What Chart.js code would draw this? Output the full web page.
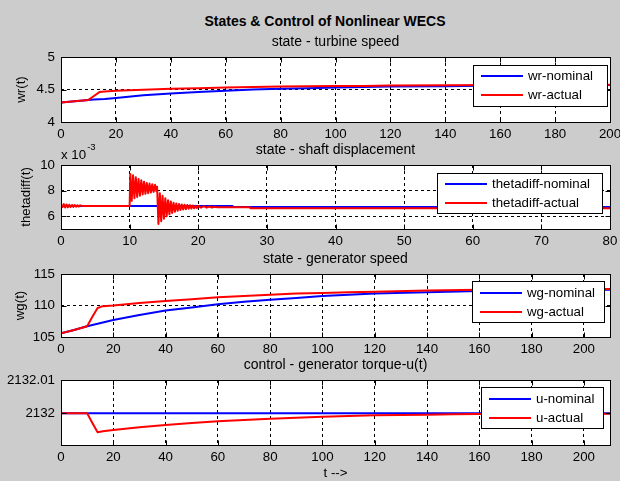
<!DOCTYPE html>
<html>
<head>
<meta charset="utf-8">
<title>States & Control of Nonlinear WECS</title>
<script src="https://cdn.jsdelivr.net/npm/chart.js@4.4.0/dist/chart.umd.min.js"></script>
<style>
  html, body { margin: 0; padding: 0; background: #cccccc; }
  #fig { position: relative; width: 620px; height: 481px; background: #cccccc; overflow: hidden; }
  #fig canvas { position: absolute; left: 0; }
  #mainTitle {
    position: absolute; top: 13px; left: 0; width: 650px; line-height: 16px;
    text-align: center; font: bold 14px "Liberation Sans", Arial, sans-serif; color: #000;
  }
</style>
</head>
<body>
<div id="fig">
  <div id="mainTitle">States &amp; Control of Nonlinear WECS</div>
  <canvas id="c1" width="620" height="115" style="top:27px"></canvas>
  <canvas id="c2" width="620" height="114" style="top:135px"></canvas>
  <canvas id="c3" width="620" height="113" style="top:244px"></canvas>
  <canvas id="c4" width="620" height="131" style="top:350px"></canvas>
</div>
<script>
// ---- turbine speed ----
const tWr = [0, 5, 10, 12, 14, 16, 20, 30, 40, 50, 60, 70, 80, 90, 100, 110, 120, 140, 160, 180, 200];
const wrNominal = [4.30, 4.32, 4.34, 4.345, 4.35, 4.355, 4.37, 4.41, 4.44, 4.46, 4.48, 4.50, 4.51, 4.52, 4.53, 4.54, 4.545, 4.55, 4.56, 4.565, 4.57];
const wrActual = [4.30, 4.32, 4.34, 4.40, 4.46, 4.47, 4.48, 4.495, 4.51, 4.52, 4.53, 4.54, 4.545, 4.55, 4.555, 4.555, 4.56, 4.565, 4.57, 4.57, 4.575];
const xTicksWr = [0, 20, 40, 60, 80, 100, 120, 140, 160, 180, 200];
const yTicksWr = [4, 4.5, 5];

// ---- shaft displacement (x 10^-3) ----
const tThetaNominal = [0, 25, 25.1, 80];
const thetaNominal = [6.80, 6.80, 6.72, 6.72];
const tThetaActual = [
  0, 0.2, 0.4, 0.6, 0.8, 1.0, 1.2, 1.4, 1.6, 1.8, 2.0, 2.2, 2.4, 2.6, 2.8, 3.0,
  10.0, 10.1, 10.3, 10.5, 10.7, 10.9, 11.1, 11.3, 11.5, 11.7, 11.9, 12.1, 12.3, 12.5, 12.7, 12.9, 13.1, 13.3, 13.5, 13.7, 13.9, 14.0,
  14.2, 14.4, 14.6, 14.8, 15.0, 15.2, 15.4, 15.6, 15.8, 16.0, 16.2, 16.4, 16.6, 16.8, 17.0, 17.2, 17.4, 17.6, 17.8, 18.0,
  18.2, 18.4, 18.6, 18.8, 19.0, 19.2, 19.4, 19.6, 19.8, 20.0,
  20.4, 20.8, 21.2, 21.6, 22.0, 22.4, 22.8, 23.0, 27.5, 27.6, 80
];
const thetaActual = [
  6.90, 6.70, 6.95, 6.68, 6.92, 6.70, 6.90, 6.72, 6.88, 6.73, 6.87, 6.74, 6.86, 6.75, 6.85, 6.80,
  6.80, 9.30, 7.20, 9.20, 7.40, 9.05, 7.50, 8.90, 7.60, 8.80, 7.70, 8.70, 7.75, 8.60, 7.80, 8.55, 7.85, 8.50, 7.90, 8.45, 7.95, 8.30,
  5.40, 7.80, 5.60, 7.60, 5.80, 7.40, 6.00, 7.25, 6.15, 7.15, 6.25, 7.05, 6.35, 7.00, 6.42, 6.95, 6.48, 6.92, 6.52, 6.90,
  6.55, 6.88, 6.58, 6.86, 6.60, 6.84, 6.62, 6.82, 6.64, 6.80,
  6.66, 6.78, 6.67, 6.76, 6.68, 6.74, 6.69, 6.70, 6.70, 6.62, 6.62
];
const xTicksTheta = [0, 10, 20, 30, 40, 50, 60, 70, 80];
const yTicksTheta = [6, 8, 10];

// ---- generator speed ----
const tWg = [0, 5, 10, 12, 14, 16, 20, 30, 40, 50, 60, 70, 80, 90, 100, 110, 120, 140, 160, 180, 210];
const wgNominal = [105.6, 106.1, 106.7, 106.9, 107.1, 107.3, 107.7, 108.5, 109.2, 109.7, 110.2, 110.6, 110.9, 111.2, 111.5, 111.7, 111.9, 112.1, 112.3, 112.4, 112.5];
const wgActual = [105.6, 106.1, 106.7, 108.2, 109.6, 109.9, 110.0, 110.4, 110.7, 111.0, 111.3, 111.5, 111.7, 111.9, 112.0, 112.1, 112.2, 112.4, 112.5, 112.55, 112.6];
const xTicksLong = [0, 20, 40, 60, 80, 100, 120, 140, 160, 180, 200];
const yTicksWg = [105, 110, 115];

// ---- generator torque ----
const tUNominal = [0, 210];
const uNominal = [2132, 2132];
const tU = [0, 10, 12, 14, 16, 20, 30, 40, 50, 60, 70, 80, 90, 100, 110, 120, 130, 140, 150, 160, 180, 210];
const uActual = [2132, 2132, 2131.9971, 2131.9943, 2131.9946, 2131.9950, 2131.9958, 2131.9965, 2131.9971, 2131.9976, 2131.9980,
  2131.9984, 2131.9987, 2131.9990, 2131.9992, 2131.9994, 2131.9995, 2131.9996, 2131.9997, 2131.9998, 2131.9999, 2131.9999];
const yTicksU = [2132, 2132.01];

Chart.defaults.font.family = '"Liberation Sans", Arial, sans-serif';
Chart.defaults.color = '#000';

const FONT = '"Liberation Sans", Arial, sans-serif';

function pts(xs, ys) {
  return xs.map((x, i) => ({ x: x, y: ys[i] }));
}

// white axes, black box, inner tick marks, boxed legend
const matlabAxes = {
  id: 'matlabAxes',
  beforeDraw(chart) {
    const { ctx, chartArea: a } = chart;
    ctx.save();
    ctx.fillStyle = '#ffffff';
    ctx.fillRect(a.left, a.top, a.right - a.left, a.bottom - a.top);
    ctx.restore();
  },
  afterDraw(chart, args, opts) {
    const { ctx, chartArea: a, scales } = chart;
    const L = Math.round(a.left) + 0.5, R = Math.round(a.right) + 0.5;
    const T = Math.round(a.top) + 0.5, B = Math.round(a.bottom) + 0.5;
    ctx.save();
    ctx.strokeStyle = '#000';
    ctx.lineWidth = 1;
    ctx.strokeRect(L, T, R - L, B - T);

    ctx.beginPath();
    scales.x.ticks.forEach(t => {
      const x = Math.round(scales.x.getPixelForValue(t.value)) + 0.5;
      ctx.moveTo(x, B); ctx.lineTo(x, B - 5);
      ctx.moveTo(x, T); ctx.lineTo(x, T + 5);
    });
    scales.y.ticks.forEach(t => {
      const y = Math.round(scales.y.getPixelForValue(t.value)) + 0.5;
      ctx.moveTo(L, y); ctx.lineTo(L + 5, y);
      ctx.moveTo(R, y); ctx.lineTo(R - 5, y);
    });
    ctx.stroke();

    if (opts.exponent) {
      ctx.fillStyle = '#000';
      ctx.textBaseline = 'middle';
      ctx.textAlign = 'left';
      ctx.font = '13.3px ' + FONT;
      ctx.fillText('x 10', a.left, a.top - 10);
      const w = ctx.measureText('x 10').width;
      ctx.font = '9.5px ' + FONT;
      ctx.fillText(opts.exponent, a.left + w + 1, a.top - 18);
    }

    const lg = opts.legend;
    if (lg) {
      const x0 = lg.x, y0 = Math.round(a.top) + lg.dy;
      ctx.fillStyle = '#ffffff';
      ctx.fillRect(x0, y0, lg.w, lg.h);
      ctx.strokeStyle = '#000';
      ctx.lineWidth = 1;
      ctx.strokeRect(x0 + 0.5, y0 + 0.5, lg.w - 1, lg.h - 1);
      ctx.font = '13.3px ' + FONT;
      ctx.textBaseline = 'middle';
      ctx.textAlign = 'left';
      chart.data.datasets.forEach((ds, i) => {
        const y = y0 + lg.row0 + i * 19;
        ctx.strokeStyle = ds.borderColor;
        ctx.lineWidth = 2;
        ctx.beginPath();
        ctx.moveTo(x0 + 8, y);
        ctx.lineTo(x0 + 50, y);
        ctx.stroke();
        ctx.fillStyle = '#000';
        ctx.fillText(ds.label, x0 + 55, y);
      });
    }
    ctx.restore();
  }
};

function xScale(max, ticks, height, title) {
  return {
    type: 'linear',
    min: 0,
    max: max,
    afterBuildTicks: s => { s.ticks = ticks.map(v => ({ value: v })); },
    afterFit: s => { s.height = height; s.paddingLeft = 0; s.paddingRight = 0; },
    grid: { color: '#000', lineWidth: 1, drawTicks: false },
    border: { display: false, dash: [3, 3] },
    ticks: { padding: 4, maxRotation: 0, autoSkip: false, font: { size: 13.3 }, callback: v => String(v) },
    title: {
      display: !!title, text: title || '', font: { size: 13.3 },
      padding: { top: 0, bottom: 0 }
    }
  };
}

function yScale(min, max, ticks, title, titlePad) {
  return {
    type: 'linear',
    min: min,
    max: max,
    afterBuildTicks: s => { s.ticks = ticks.map(v => ({ value: v })); },
    afterFit: s => { s.width = 61; s.paddingTop = 0; s.paddingBottom = 0; },
    grid: { color: '#000', lineWidth: 1, drawTicks: false },
    border: { display: false, dash: [3, 3] },
    ticks: { padding: 6, font: { size: 13.3 }, callback: v => String(v) },
    title: {
      display: !!title, text: title || '', font: { size: 13.3 },
      padding: { top: titlePad || 0, bottom: 0 }
    }
  };
}

function line(label, color, data, order) {
  return {
    label: label,
    data: data,
    borderColor: color,
    backgroundColor: color,
    borderWidth: 2,
    pointRadius: 0,
    tension: 0,
    borderJoinStyle: 'round',
    order: order
  };
}

function makeChart(id, cfg) {
  return new Chart(document.getElementById(id), {
    type: 'line',
    data: { datasets: cfg.datasets },
    plugins: [matlabAxes],
    options: {
      responsive: false,
      animation: false,
      events: [],
      layout: { padding: { left: 0, right: 10, top: 0, bottom: 0 } },
      plugins: {
        legend: { display: false },
        tooltip: { enabled: false },
        title: {
          display: true,
          text: cfg.title,
          fullSize: false,
          color: '#000',
          font: { size: 14, weight: 'normal' },
          padding: { top: 7.1, bottom: 6.1 }
        },
        matlabAxes: { legend: cfg.legend, exponent: cfg.exponent }
      },
      scales: { x: cfg.x, y: cfg.y }
    }
  });
}

makeChart('c1', {
  title: 'state - turbine speed',
  datasets: [
    line('wr-nominal', '#0000ff', pts(tWr, wrNominal), 1),
    line('wr-actual', '#ff0000', pts(tWr, wrActual), 0)
  ],
  x: xScale(200, xTicksWr, 20),
  y: yScale(4, 5, yTicksWr, 'wr(t)', 13),
  legend: { x: 473, dy: 8, w: 135, h: 42, row0: 11 }
});

makeChart('c2', {
  title: 'state - shaft displacement',
  datasets: [
    line('thetadiff-nominal', '#0000ff', pts(tThetaNominal, thetaNominal), 1),
    line('thetadiff-actual', '#ff0000', pts(tThetaActual, thetaActual), 0)
  ],
  x: xScale(80, xTicksTheta, 20),
  y: yScale(5, 10, yTicksTheta, 'thetadiff(t)', 18),
  legend: { x: 437, dy: 8, w: 166, h: 41, row0: 11 },
  exponent: '-3'
});

makeChart('c3', {
  title: 'state - generator speed',
  datasets: [
    line('wg-nominal', '#0000ff', pts(tWg, wgNominal), 1),
    line('wg-actual', '#ff0000', pts(tWg, wgActual), 0)
  ],
  x: xScale(210, xTicksLong, 20),
  y: yScale(105, 115, yTicksWg, 'wg(t)', 12),
  legend: { x: 472, dy: 7, w: 133, h: 42, row0: 12 }
});

makeChart('c4', {
  title: 'control - generator torque-u(t)',
  datasets: [
    line('u-nominal', '#0000ff', pts(tUNominal, uNominal), 1),
    line('u-actual', '#ff0000', pts(tU, uActual), 0)
  ],
  x: xScale(210, xTicksLong, 36, 't -->'),
  y: yScale(2131.9905, 2132.01, yTicksU, '', 0),
  legend: { x: 481, dy: 7, w: 123, h: 42, row0: 12 }
});
</script>
</body>
</html>
